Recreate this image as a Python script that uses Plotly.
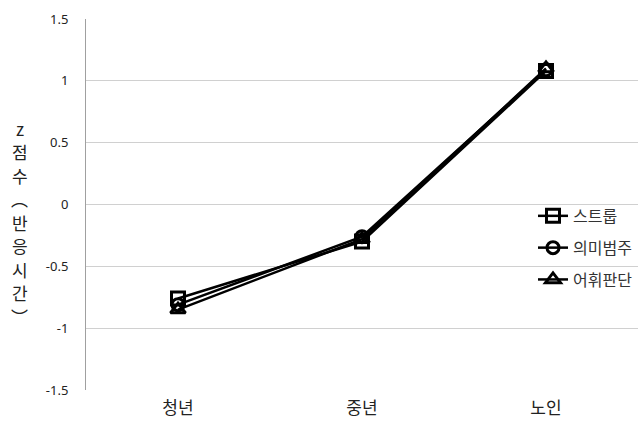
import plotly.graph_objects as go

# Age groups and z-scores of response time for each task
groups = ["청년", "중년", "노인"]
stroop = [-0.76, -0.30, 1.08]
semantic = [-0.81, -0.26, 1.09]
lexical = [-0.85, -0.28, 1.10]

y_ticks = [-1.5, -1, -0.5, 0, 0.5, 1, 1.5]
y_tick_text = ["-1.5", "-1", "-0.5", "0", "0.5", "1", "1.5"]

series = [
    ("스트룹", stroop, "square-open", 13),
    ("의미범주", semantic, "circle-open", 12),
    ("어휘판단", lexical, "triangle-up-open", 13),
]

fig = go.Figure()
for name, vals, sym, sz in series:
    fig.add_trace(go.Scatter(
        x=groups, y=vals, name=name, mode="lines+markers",
        legendgroup=name,
        line=dict(color="black", width=2.5),
        marker=dict(symbol=sym, size=sz, color="black",
                    line=dict(color="black", width=3)),
    ))

fig.update_layout(
    width=638, height=433,
    margin=dict(l=86, r=0, t=19, b=43),
    paper_bgcolor="white", plot_bgcolor="white",
    font=dict(family="Noto Sans CJK KR", color="black"),
    xaxis=dict(
        type="category", range=[-0.5, 2.5], showgrid=False,
        showline=False, ticks="", tickfont=dict(size=17, color="#222"),
        zeroline=False, ticklabelstandoff=6,
    ),
    yaxis=dict(
        range=[-1.5, 1.5], tickvals=y_ticks, ticktext=y_tick_text,
        showgrid=True, gridcolor="#d0d0d0", gridwidth=1,
        showline=True, linecolor="#a0a0a0", linewidth=1,
        zeroline=False, ticks="", ticklabelstandoff=14,
        tickfont=dict(size=13, family="Noto Sans", color="#222"),
    ),
    legend=dict(
        x=0.81, y=0.515, xanchor="left", yanchor="top",
        bgcolor="rgba(0,0,0,0)", font=dict(size=16, color="#333"),
        tracegroupgap=8, itemwidth=30,
    ),
    showlegend=True,
)

# vertical stacked axis title, one character per line
title_chars = ["z", "점", "수", "︵", "반", "응", "시", "간", "︶"]
plot_top, plot_h = 19, 371
for i, ch in enumerate(title_chars):
    py = 128 + 23.5 * i
    fig.add_annotation(
        text=ch, xref="paper", yref="paper",
        x=-0.12, y=1 - (py - plot_top) / plot_h,
        xanchor="center", yanchor="middle",
        showarrow=False, font=dict(size=17, color="#222"),
    )

fig.write_html("out.html")
